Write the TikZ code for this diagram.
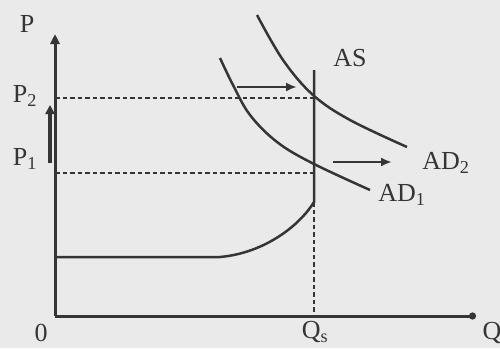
\documentclass[tikz,border=0pt]{standalone}
\usepackage{fontspec}
\setmainfont{Liberation Serif}
\usetikzlibrary{arrows.meta}
\definecolor{bg}{HTML}{EAEAEA}
\definecolor{ink}{HTML}{353535}
\tikzset{
  lbl/.style={text=ink, font=\fontsize{26}{28}\selectfont, inner sep=0pt},
  curve/.style={draw=ink, line width=2.5pt},
  guide/.style={draw=ink, line width=2pt, dash pattern=on 4.5pt off 3pt},
  shiftarrow/.style={draw=ink, line width=2.6pt, -{Latex[length=11pt,width=9pt]}},
  axis/.style={draw=ink, line width=3pt}
}
\begin{document}
\begin{tikzpicture}[x=1pt,y=-1pt]
\fill[bg] (0,0) rectangle (500,348);
\useasboundingbox (0,0) rectangle (500,348);
% coordinates
\coordinate (O) at (55,316);
\coordinate (Yend) at (55,34);
\coordinate (Xend) at (476,316);
\coordinate (P2a) at (55,98);
\coordinate (P2b) at (314,98);
\coordinate (P1a) at (55,173);
\coordinate (P1b) at (314,173);
\coordinate (AStop) at (314,70);
\coordinate (ASk) at (314,202);
\coordinate (ASh) at (220,257);
\coordinate (ASl) at (55,257);
\coordinate (Qs) at (314,316);
\coordinate (A1s) at (237,87);
\coordinate (A1e) at (297,87);
\coordinate (A2s) at (333,162);
\coordinate (A2e) at (392,162);
\coordinate (Vs) at (50,163);
\coordinate (Ve) at (50,105);
% axes
\draw[axis, -{Triangle[length=10pt,width=9pt]}] (O) -- (Yend);
\draw[axis, -{Circle[length=7pt]}] (O) -- (Xend);
% guides
\draw[guide] (P2a) -- (P2b);
\draw[guide] (P1a) -- (P1b);
\draw[guide] (ASk) -- (Qs);
% AS curve
\draw[curve] (AStop) -- (ASk) .. controls (300,225) and (265,253) .. (ASh) -- (ASl);
% AD curves
\draw[curve] plot[smooth, tension=0.6] coordinates {(220,58) (233,85) (250,115) (277,142) (312,163) (370,190)};
\draw[curve] plot[smooth, tension=0.6] coordinates {(257,15) (283,60) (313,95) (350,120) (407,147)};
% shift arrows
\draw[shiftarrow] (A1s) -- (A1e);
\draw[shiftarrow] (A2s) -- (A2e);
\draw[draw=ink, line width=3.4pt, -{Triangle[length=9pt,width=9pt]}] (Vs) -- (Ve);
% labels
\node[lbl] (lP) at (27,24) {P};
\node[lbl] (lP2) at (25,96) {P\textsubscript{2}};
\node[lbl] (lP1) at (25,159) {P\textsubscript{1}};
\node[lbl] (lO) at (41,333) {0};
\node[lbl] (lQs) at (315,332) {Q\textsubscript{s}};
\node[lbl] (lQ) at (492,333) {Q};
\node[lbl] (lAS) at (350,58) {AS};
\node[lbl] (lAD2) at (446,163) {AD\textsubscript{2}};
\node[lbl] (lAD1) at (402,195) {AD\textsubscript{1}};
\end{tikzpicture}
\end{document}
